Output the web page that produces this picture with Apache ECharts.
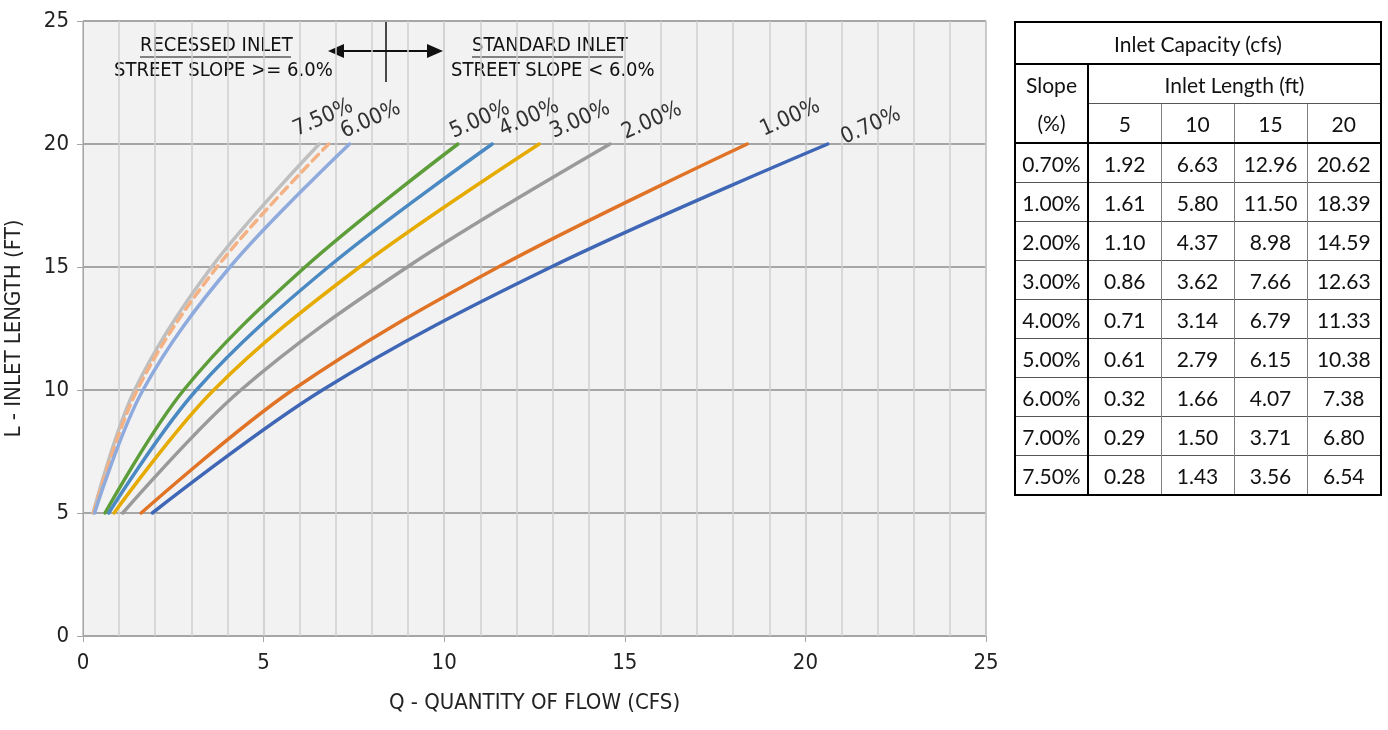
<!DOCTYPE html>
<html>
<head>
<meta charset="utf-8">
<title>Inlet Capacity</title>
<script src="https://cdn.jsdelivr.net/npm/echarts@6.0.0/dist/echarts.min.js"></script>
<style>
  body { margin:0; background:#fff; }
  #chart { position:absolute; left:0; top:0; width:1388px; height:730px; }
  #tbl { position:absolute; left:1014px; top:21px; width:366px; border-collapse:collapse; table-layout:fixed;
         font-family:Lato, "Open Sans", sans-serif; font-size:21px; color:#111; border:2px solid #000; }
  #tbl td { text-align:center; padding:0; height:38px; border-left:1px solid #7f7f7f; border-top:1px solid #555; white-space:nowrap; }
  #tbl td.c0 { border-right:2px solid #000; border-left:none; }
  #tbl tr.title td { height:40px; border-bottom:2px solid #000; }
  #tbl tr.pct td { border-bottom:2px solid #000; }
  #tbl td.nob { border-top:none; }
</style>
</head>
<body>
<div id="chart"></div>
<table id="tbl"></table>
<script type="text/javascript">
// inlet lengths (ft) on the L axis
var lengths = [5, 10, 15, 20];
var slopes = ['0.70%', '1.00%', '2.00%', '3.00%', '4.00%', '5.00%', '6.00%', '7.00%', '7.50%'];
// inlet capacity Q (cfs) for each slope at L = 5, 10, 15, 20
var q070 = [1.92, 6.63, 12.96, 20.62];
var q100 = [1.61, 5.80, 11.50, 18.39];
var q200 = [1.10, 4.37, 8.98, 14.59];
var q300 = [0.86, 3.62, 7.66, 12.63];
var q400 = [0.71, 3.14, 6.79, 11.33];
var q500 = [0.61, 2.79, 6.15, 10.38];
var q600 = [0.32, 1.66, 4.07, 7.38];
var q700 = [0.29, 1.50, 3.71, 6.80];
var q750 = [0.28, 1.43, 3.56, 6.54];
var xTicks = [0, 5, 10, 15, 20, 25];
var yTicks = [0, 5, 10, 15, 20, 25];

var allQ = [q070, q100, q200, q300, q400, q500, q600, q700, q750];
var colors = ['#3f67b6', '#e07325', '#9a9a9a', '#e6ab00', '#4a89c2', '#5e9e3a', '#8faadc', '#f4b183', '#bfbfbf'];
// slope label centre offsets (screen px) from the end of each curve, null = no label
var labelOffsets = [[43, -18], [43, -26], [42, -23], [41, -24], [37, -26], [22, -24], [21, -24], null, [4, -26]];
var labelAngle = 24;

var narrow = '"Liberation Sans Narrow", "DejaVu Sans Condensed", "Arial Narrow", sans-serif';

function buildTable() {
  var h = '<colgroup><col style="width:73px"><col style="width:73px"><col style="width:73px"><col style="width:73px"><col style="width:74px"></colgroup>';
  h += '<tr class="title"><td colspan="5">Inlet Capacity (cfs)</td></tr>';
  h += '<tr><td class="c0">Slope</td><td colspan="4">Inlet Length (ft)</td></tr>';
  h += '<tr class="pct"><td class="c0 nob">(%)</td>';
  for (var j = 0; j < lengths.length; j++) h += '<td>' + lengths[j] + '</td>';
  h += '</tr>';
  for (var i = 0; i < slopes.length; i++) {
    h += '<tr><td class="c0">' + slopes[i] + '</td>';
    for (var k = 0; k < lengths.length; k++) h += '<td>' + allQ[i][k].toFixed(2) + '</td>';
    h += '</tr>';
  }
  document.getElementById('tbl').innerHTML = h;
}

// label offset is applied in the rotated frame, so turn the screen offset back
function unrotate(d) {
  var a = labelAngle * Math.PI / 180;
  return [d[0] * Math.cos(a) - d[1] * Math.sin(a), d[0] * Math.sin(a) + d[1] * Math.cos(a)];
}

function buildSeries() {
  var series = [];
  var labelData = [];
  for (var i = allQ.length - 1; i >= 0; i--) {
    var pts = [];
    for (var k = 0; k < lengths.length; k++) pts.push([allQ[i][k], lengths[k]]);
    series.push({
      name: slopes[i],
      type: 'line',
      smooth: 0.35,
      showSymbol: false,
      symbol: 'none',
      lineStyle: { color: colors[i], width: 3.5, type: slopes[i] === '7.00%' ? [9, 6] : 'solid', cap: 'round' },
      data: pts,
      z: 3
    });
    if (labelOffsets[i]) {
      labelData.push({
        value: pts[pts.length - 1],
        label: { show: true, formatter: slopes[i], offset: unrotate(labelOffsets[i]) }
      });
    }
  }
  series.push({
    type: 'scatter',
    symbolSize: 1,
    itemStyle: { color: 'transparent' },
    label: { position: 'inside', rotate: labelAngle, fontFamily: narrow, fontSize: 22, color: '#000' },
    data: labelData,
    silent: true,
    z: 5
  });
  return series;
}

function chartInit() {
  var myChart = echarts.init(document.getElementById('chart'));
  var option = {
    animation: false,
    backgroundColor: '#fff',
    grid: { left: 83, top: 21, width: 903, height: 615, outerBoundsMode: 'none', containLabel: false,
            show: true, backgroundColor: '#f2f2f2', borderColor: '#a6a6a6', borderWidth: 1 },
    xAxis: {
      type: 'value', min: xTicks[0], max: xTicks[xTicks.length - 1], interval: 5,
      name: 'Q - QUANTITY OF FLOW (CFS)', nameLocation: 'middle', nameGap: 56,
      nameTextStyle: { fontFamily: narrow, fontSize: 22, color: '#222' },
      axisLine: { show: true, lineStyle: { color: '#a6a6a6' } },
      axisTick: { show: true, length: 6, lineStyle: { color: '#a6a6a6' } },
      axisLabel: { fontFamily: narrow, fontSize: 22, color: '#222', margin: 16 },
      splitLine: { show: true, lineStyle: { color: '#c8c8c8', width: 1.5 } },
      minorTick: { show: false, splitNumber: 5 },
      minorSplitLine: { show: true, lineStyle: { color: '#d0d0d0', width: 1.5 } }
    },
    yAxis: {
      type: 'value', min: yTicks[0], max: yTicks[yTicks.length - 1], interval: 5,
      name: 'L - INLET LENGTH (FT)', nameLocation: 'middle', nameGap: 58,
      nameTextStyle: { fontFamily: narrow, fontSize: 22, color: '#222' },
      axisLine: { show: true, lineStyle: { color: '#a6a6a6' } },
      axisTick: { show: true, length: 6, lineStyle: { color: '#a6a6a6' } },
      axisLabel: { fontFamily: narrow, fontSize: 22, color: '#222', margin: 14 },
      splitLine: { show: true, lineStyle: { color: '#a6a6a6', width: 2 } }
    },
    graphic: [
      { type: 'text', left: 140, top: 36, style: { text: 'RECESSED INLET', font: '20px ' + narrow, fill: '#111' } },
      { type: 'line', shape: { x1: 140, y1: 57, x2: 291, y2: 57 }, style: { stroke: '#111', lineWidth: 1 } },
      { type: 'text', left: 114, top: 61, style: { text: 'STREET SLOPE >= 6.0%', font: '20px ' + narrow, fill: '#111' } },
      { type: 'text', left: 472, top: 36, style: { text: 'STANDARD INLET', font: '20px ' + narrow, fill: '#111' } },
      { type: 'line', shape: { x1: 472, y1: 57, x2: 623, y2: 57 }, style: { stroke: '#111', lineWidth: 1 } },
      { type: 'text', left: 451, top: 61, style: { text: 'STREET SLOPE < 6.0%', font: '20px ' + narrow, fill: '#111' } },
      { type: 'line', shape: { x1: 386, y1: 21, x2: 386, y2: 82 }, style: { stroke: '#111', lineWidth: 1.5 } },
      { type: 'line', shape: { x1: 340, y1: 51, x2: 431, y2: 51 }, style: { stroke: '#111', lineWidth: 2 } },
      { type: 'polygon', shape: { points: [[328, 51], [344, 44], [344, 58]] }, style: { fill: '#111' } },
      { type: 'polygon', shape: { points: [[443, 51], [427, 44], [427, 58]] }, style: { fill: '#111' } }
    ],
    series: buildSeries()
  };
  myChart.setOption(option);
}

buildTable();
chartInit();
</script>
</body>
</html>
